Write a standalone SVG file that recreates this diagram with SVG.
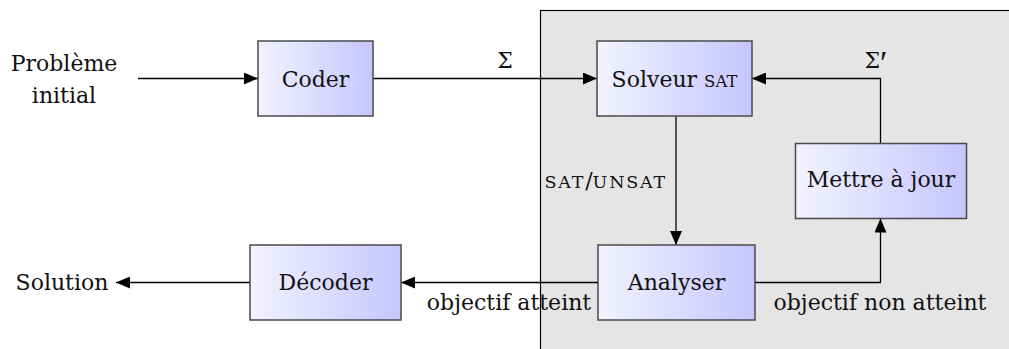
<svg xmlns="http://www.w3.org/2000/svg" width="1009" height="349" viewBox="0 0 1009 349">
  <style>
    text { font-family: "DejaVu Serif", "Liberation Serif", serif; font-size: 22px; fill: #111; }
    .mid { text-anchor: middle; }
    .sc { font-size: 16.5px; }
    .sc2 { font-size: 17.5px; letter-spacing: 1.8px; }
    .prime { font-family: "Liberation Serif", serif; font-size: 34px; }
    .box { fill: url(#boxFill); stroke: #4a4a4a; stroke-width: 1.5; }
    .wire { fill: none; stroke: #000; stroke-width: 1.3; }
  </style>
  <defs>
    <linearGradient id="boxFill" x1="0" y1="0" x2="1" y2="0">
      <stop offset="0" stop-color="#f2f2ff"/>
      <stop offset="1" stop-color="#c6c6ff"/>
    </linearGradient>
    <marker id="head" viewBox="0 0 14 12" refX="14" refY="6" markerWidth="14" markerHeight="12" markerUnits="userSpaceOnUse" orient="auto">
      <path d="M0,0 L14,6 L0,12 Z" fill="#000"/>
    </marker>
  </defs>

  <!-- solver loop area -->
  <rect id="loop-area" x="540.5" y="10.5" width="480" height="360" fill="#e5e5e5" stroke="#000" stroke-width="1.2"/>

  <g id="connectors">
    <path class="wire" d="M138,78.5 H258" marker-end="url(#head)"/>
    <path class="wire" d="M373,78.5 H597" marker-end="url(#head)"/>
    <path class="wire" d="M676,116 V245" marker-end="url(#head)"/>
    <path class="wire" d="M755,282.5 H880.5 V218.5" marker-end="url(#head)"/>
    <path class="wire" d="M880.5,143.5 V78.5 H752" marker-end="url(#head)"/>
    <path class="wire" d="M598,282.5 H401" marker-end="url(#head)"/>
    <path class="wire" d="M250,282.5 H116" marker-end="url(#head)"/>
    <text x="505" y="68" class="mid">Σ</text>
    <text x="876" y="68" class="mid">Σ<tspan class="prime" dy="6">′</tspan></text>
    <text x="667" y="188" text-anchor="end"><tspan class="sc2">SAT</tspan>/<tspan class="sc2">UNSAT</tspan></text>
    <text x="509" y="310" class="mid">objectif atteint</text>
    <text x="880" y="310" class="mid">objectif non atteint</text>
  </g>

  <g id="probleme">
    <text x="64" y="71" class="mid">Problème</text>
    <text x="64" y="103" class="mid">initial</text>
  </g>

  <g id="coder">
    <rect class="box" x="258" y="41" width="115" height="75"/>
    <text x="315.5" y="87" class="mid">Coder</text>
  </g>

  <g id="solveur">
    <rect class="box" x="597" y="41" width="155" height="75"/>
    <text x="674.5" y="87" class="mid">Solveur <tspan class="sc">SAT</tspan></text>
  </g>

  <g id="mettre-a-jour">
    <rect class="box" x="795.5" y="143.5" width="171" height="75"/>
    <text x="881" y="187" class="mid">Mettre à jour</text>
  </g>

  <g id="analyser">
    <rect class="box" x="598" y="245" width="157" height="75"/>
    <text x="676.5" y="290" class="mid">Analyser</text>
  </g>

  <g id="decoder">
    <rect class="box" x="250" y="245" width="151" height="75"/>
    <text x="325.5" y="290" class="mid">Décoder</text>
  </g>

  <g id="solution">
    <text x="62" y="290" class="mid">Solution</text>
  </g>
</svg>
